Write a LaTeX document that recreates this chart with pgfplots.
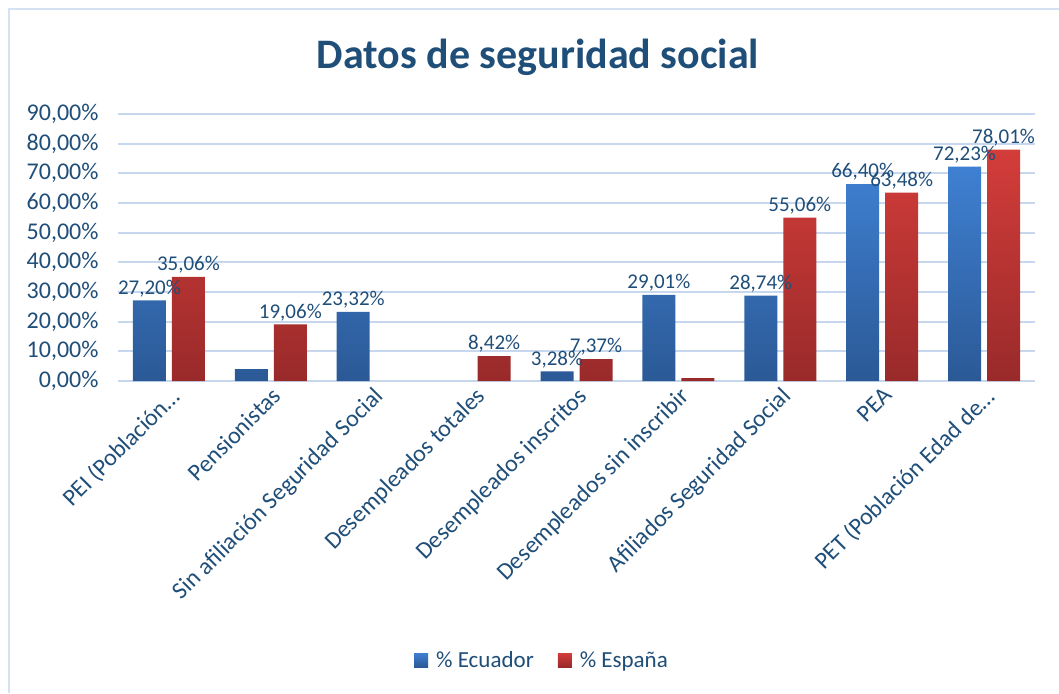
\documentclass[border=0pt]{standalone}
\usepackage{fontspec}
\setmainfont{Carlito}
\usepackage{pgfplots}
\pgfplotsset{compat=1.18}
\definecolor{txt}{HTML}{1F4E79}
\definecolor{gridc}{HTML}{C6D7EE}
\definecolor{framec}{HTML}{D5E2F4}
\definecolor{btop}{HTML}{3F80D2}
\definecolor{bbot}{HTML}{2B5996}
\definecolor{rtop}{HTML}{D33D3A}
\definecolor{rbot}{HTML}{992A2A}
\begin{document}
\begin{tikzpicture}
\path[use as bounding box] (0pt,0pt) rectangle (1059pt,-693pt);
\draw[framec, line width=2pt] (9pt,-693pt) -- (9pt,-9pt) -- (1059pt,-9pt);
\node[font=\fontsize{42}{50}\selectfont\bfseries, text=txt] at (538pt,-57pt) {Datos de seguridad social};
\begin{axis}[
    at={(118pt,-381pt)}, anchor=south west,
    scale only axis,
    width=917pt, height=267pt,
    xmin=-0.5, xmax=8.5,
    ymin=0, ymax=90,
    ybar=6pt, bar width=33pt,
    axis line style={draw=none},
    major tick length=0pt,
    ymajorgrids,
    grid style={gridc, line width=2pt},
    ytick={0,10,...,90},
    yticklabel={\pgfmathprintnumber[fixed,fixed zerofill,precision=2,use comma]{\tick}\%},
    /pgf/number format/assume math mode=true,
    yticklabel style={font=\fontsize{24}{28}\selectfont, text=txt, xshift=-16pt},
    xtick={0,...,8},
    xticklabels={PEI (Población…, Pensionistas, Sin afiliación Seguridad Social,
      Desempleados totales, Desempleados inscritos, Desempleados sin inscribir,
      Afiliados Seguridad Social, PEA, PET (Población Edad de…},
    xticklabel style={font=\fontsize{24}{28}\selectfont, text=txt, rotate=45, anchor=north east},
    point meta=explicit symbolic,
    nodes near coords={\pgfplotspointmeta},
    every node near coord/.append style={font=\fontsize{21}{25}\selectfont, text=txt},
    legend style={at={(0.4624,-1.045)}, anchor=center, draw=none,
      legend columns=2, font=\fontsize{23}{28}\selectfont, text=txt,
      /tikz/every odd column/.append style={column sep=6pt},
      /tikz/every even column/.append style={column sep=22pt}},
    legend image code/.code={\path[#1] (0pt,-7pt) rectangle (14pt,7pt);},
]
\addplot[draw=none, top color=btop, bottom color=bbot] coordinates {
    (0,27.20) [27,20\%]
    (1,4.0) []
    (2,23.32) [23,32\%]
    (4,3.28) [3,28\%]
    (5,29.01) [29,01\%]
    (6,28.74) [28,74\%]
    (7,66.40) [66,40\%]
    (8,72.23) [72,23\%]
};
\addplot[draw=none, top color=rtop, bottom color=rbot] coordinates {
    (0,35.06) [35,06\%]
    (1,19.06) [19,06\%]
    (3,8.42) [8,42\%]
    (4,7.37) [7,37\%]
    (5,1.0) []
    (6,55.06) [55,06\%]
    (7,63.48) [63,48\%]
    (8,78.01) [78,01\%]
};
\legend{\% Ecuador, \% España}
\end{axis}
\end{tikzpicture}
\end{document}
